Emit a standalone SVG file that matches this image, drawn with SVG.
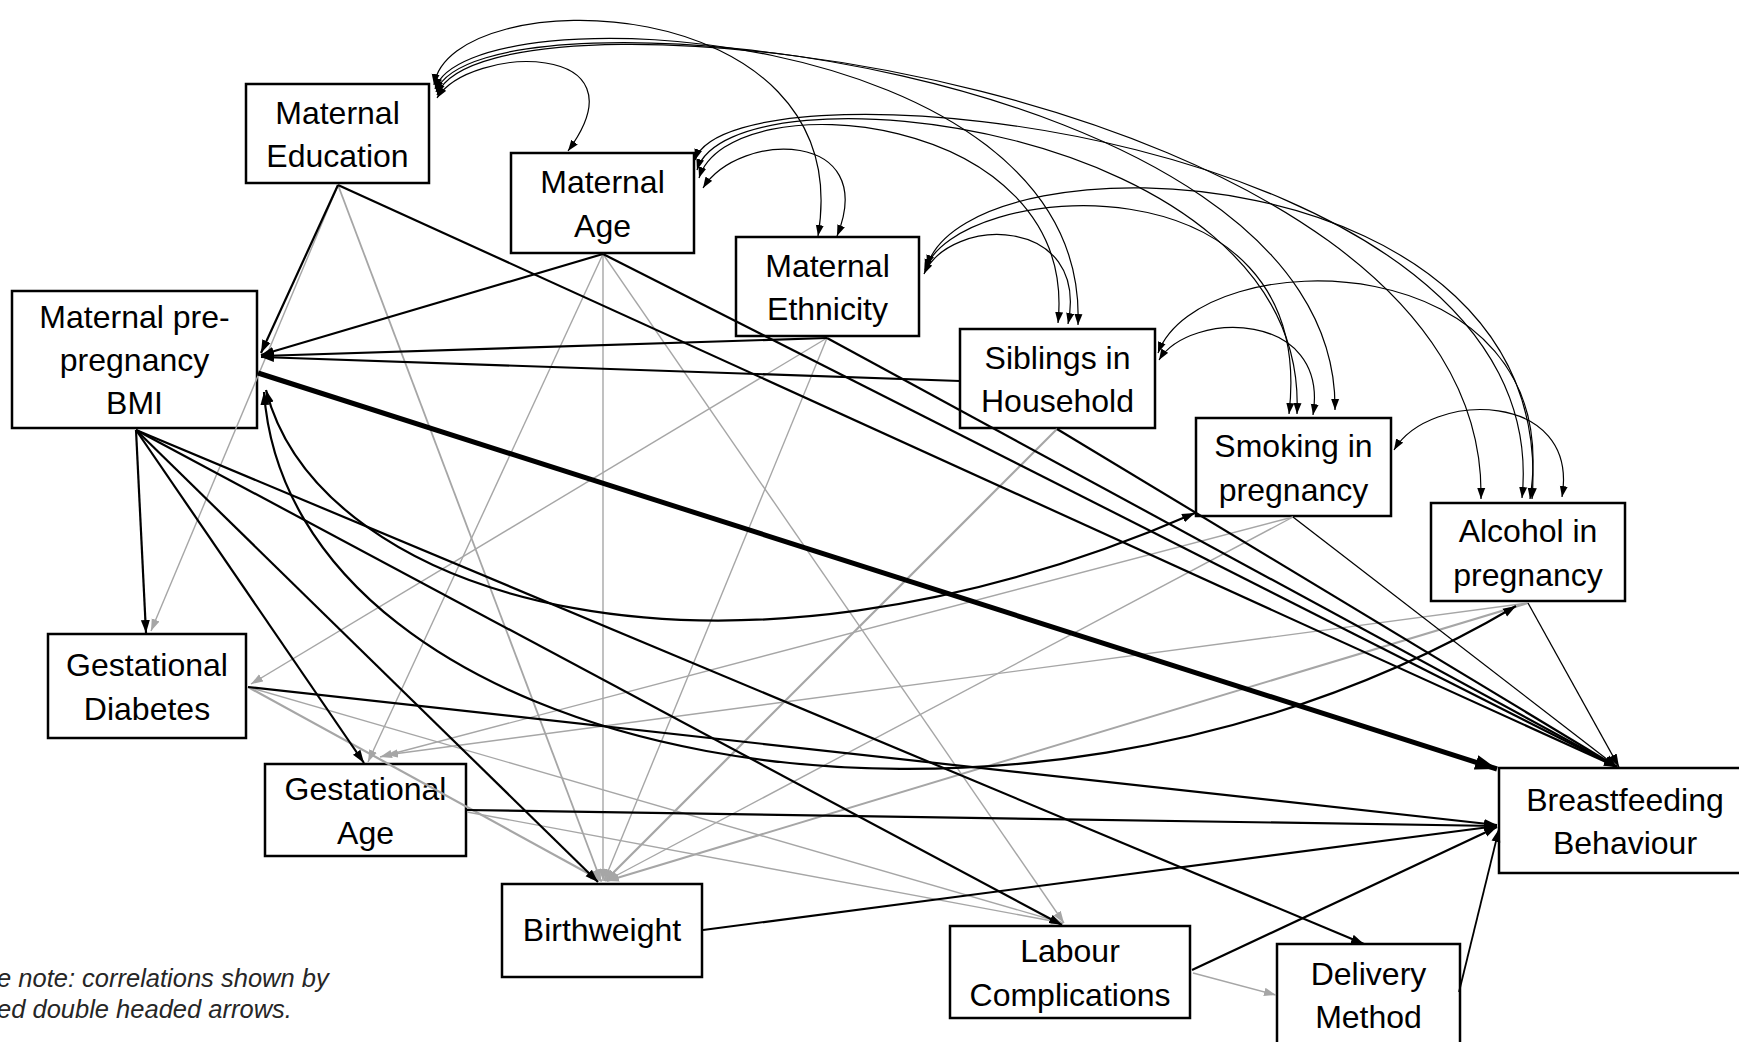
<svg xmlns="http://www.w3.org/2000/svg" width="1739" height="1042" viewBox="0 0 1739 1042">
<style>
.box{fill:#fff;stroke:#000;stroke-width:2.5}
.lbl{font-family:"Liberation Sans",Arial,sans-serif;font-size:32px;fill:#000;text-anchor:middle}
.note{font-family:"Liberation Sans",Arial,sans-serif;font-size:25.5px;font-style:italic;fill:#262626}
.b{stroke:#000;stroke-width:2.2;fill:none;marker-end:url(#ab)}
.bt{stroke:#000;stroke-width:1.3;fill:none;marker-end:url(#ab)}
.bk{stroke:#000;stroke-width:5;fill:none;marker-end:url(#abk)}
.bc{stroke:#000;stroke-width:2.2;fill:none;marker-start:url(#ab);marker-end:url(#ab)}
.g{stroke:#a6a6a6;stroke-width:1.4;fill:none;marker-end:url(#ag)}
.gk{stroke:#a6a6a6;stroke-width:2.2;fill:none;marker-end:url(#ag)}
.c{stroke:#000;stroke-width:1.2;fill:none;marker-start:url(#ac);marker-end:url(#ac)}
</style>
<defs>
<marker id="ab" markerUnits="userSpaceOnUse" markerWidth="14" markerHeight="10" refX="13" refY="5" orient="auto-start-reverse"><path d="M0,0.5 L13,5 L0,9.5 z" fill="#000"/></marker>
<marker id="abk" markerUnits="userSpaceOnUse" markerWidth="24" markerHeight="16" refX="22" refY="8" orient="auto"><path d="M0,0.5 L22,8 L0,15.5 z" fill="#000"/></marker>
<marker id="ag" markerUnits="userSpaceOnUse" markerWidth="13" markerHeight="10" refX="12" refY="5" orient="auto"><path d="M0,0.8 L12,5 L0,9.2 z" fill="#a6a6a6"/></marker>
<marker id="ac" markerUnits="userSpaceOnUse" markerWidth="12" markerHeight="9" refX="11" refY="4.5" orient="auto-start-reverse"><path d="M0,0.5 L11,4.5 L0,8.5 z" fill="#000"/></marker>
</defs>
<rect width="1739" height="1042" fill="#fff"/>

<g id="node-education"><rect class="box" x="246" y="84" width="183" height="99"/><text class="lbl" x="337.5" y="123.5">Maternal</text><text class="lbl" x="337.5" y="167">Education</text></g>
<g id="node-age"><rect class="box" x="511" y="153" width="183" height="100"/><text class="lbl" x="602.5" y="193">Maternal</text><text class="lbl" x="602.5" y="236.5">Age</text></g>
<g id="node-ethnicity"><rect class="box" x="736" y="237" width="183" height="99"/><text class="lbl" x="827.5" y="276.5">Maternal</text><text class="lbl" x="827.5" y="320">Ethnicity</text></g>
<g id="node-siblings"><rect class="box" x="960" y="329" width="195" height="99"/><text class="lbl" x="1057.5" y="368.5">Siblings in</text><text class="lbl" x="1057.5" y="412">Household</text></g>
<g id="node-smoking"><rect class="box" x="1196" y="418" width="195" height="98"/><text class="lbl" x="1293.5" y="457">Smoking in</text><text class="lbl" x="1293.5" y="500.5">pregnancy</text></g>
<g id="node-alcohol"><rect class="box" x="1431" y="503" width="194" height="98"/><text class="lbl" x="1528" y="542">Alcohol in</text><text class="lbl" x="1528" y="585.5">pregnancy</text></g>
<g id="node-bmi"><rect class="box" x="12" y="291" width="245" height="137"/><text class="lbl" x="134.5" y="328">Maternal pre-</text><text class="lbl" x="134.5" y="371">pregnancy</text><text class="lbl" x="134.5" y="414">BMI</text></g>
<g id="node-gdiabetes"><rect class="box" x="48" y="634" width="198" height="104"/><text class="lbl" x="147" y="676">Gestational</text><text class="lbl" x="147" y="719.5">Diabetes</text></g>
<g id="node-gage"><rect class="box" x="265" y="764" width="201" height="92"/><text class="lbl" x="365.5" y="800">Gestational</text><text class="lbl" x="365.5" y="843.5">Age</text></g>
<g id="node-birthweight"><rect class="box" x="502" y="884" width="200" height="93"/><text class="lbl" x="602" y="941">Birthweight</text></g>
<g id="node-labour"><rect class="box" x="950" y="926" width="240" height="92"/><text class="lbl" x="1070" y="962">Labour</text><text class="lbl" x="1070" y="1005.5">Complications</text></g>
<g id="node-delivery"><rect class="box" x="1277" y="944" width="183" height="101"/><text class="lbl" x="1368.5" y="984.5">Delivery</text><text class="lbl" x="1368.5" y="1028">Method</text></g>
<g id="node-breastfeeding"><rect class="box" x="1499" y="768" width="252" height="105"/><text class="lbl" x="1625" y="810.5">Breastfeeding</text><text class="lbl" x="1625" y="854">Behaviour</text></g>

<g id="connectors">
<line class="g" x1="338" y1="185" x2="151" y2="631"/>
<line class="g" x1="338" y1="185" x2="601" y2="881" style="stroke-width:1.8"/>
<line class="g" x1="603" y1="254" x2="368" y2="762"/>
<line class="g" x1="603" y1="254" x2="603" y2="881"/>
<line class="g" x1="603" y1="254" x2="1064" y2="923"/>
<line class="g" x1="827" y1="338" x2="251" y2="684"/>
<line class="g" x1="827" y1="338" x2="604" y2="881"/>
<line class="gk" x1="1057" y1="429" x2="605" y2="881"/>
<line class="g" x1="1293" y1="517" x2="380" y2="757"/>
<line class="g" x1="1293" y1="517" x2="606" y2="881"/>
<line class="g" x1="1528" y1="603" x2="386" y2="755"/>
<line class="gk" x1="1528" y1="603" x2="607" y2="881" style="stroke-width:2"/>
<line class="gk" x1="248" y1="687" x2="602" y2="881"/>
<line class="g" x1="248" y1="687" x2="1063" y2="923"/>
<line class="g" x1="467" y1="812" x2="1063" y2="923"/>
<line class="g" x1="1193" y1="973" x2="1276" y2="995"/>
<line class="b" x1="338" y1="185" x2="261" y2="353"/>
<line class="b" x1="603" y1="254" x2="261" y2="355"/>
<line class="b" x1="827" y1="338" x2="261" y2="356"/>
<line class="b" x1="960" y1="381" x2="261" y2="357"/>
<line class="b" x1="338" y1="185" x2="1617" y2="767"/>
<line class="b" x1="603" y1="254" x2="1617" y2="767"/>
<line class="b" x1="827" y1="338" x2="1617" y2="767"/>
<line class="b" x1="1057" y1="429" x2="1617" y2="767"/>
<line class="bt" x1="1293" y1="517" x2="1617" y2="767"/>
<line class="bt" x1="1528" y1="603" x2="1619" y2="767"/>
<line class="bk" x1="258" y1="373" x2="1497" y2="769"/>
<line class="b" x1="136" y1="430" x2="146" y2="633"/>
<line class="b" x1="136" y1="430" x2="364" y2="763"/>
<line class="b" x1="136" y1="430" x2="598" y2="882"/>
<line class="b" x1="136" y1="430" x2="1062" y2="925"/>
<line class="b" x1="136" y1="430" x2="1364" y2="944"/>
<line class="b" x1="248" y1="687" x2="1497" y2="825"/>
<line class="b" x1="467" y1="810" x2="1497" y2="826"/>
<line class="b" x1="703" y1="930" x2="1497" y2="826"/>
<line class="b" x1="1192" y1="970" x2="1497" y2="827"/>
<line class="b" x1="1459" y1="992" x2="1499" y2="829" style="stroke-width:1.8"/>
<path class="bc" d="M266,390 C320,600 720,720 1195,513"/>
<path class="bc" d="M264,392 C290,760 1000,910 1516,606"/>
<path class="c" d="M437,98 C470,45 650,40 568,151"/>
<path class="c" d="M434,85 C450,-20 860,-15 818,236"/>
<path class="c" d="M435,89 C465,-10 1090,20 1078,325"/>
<path class="c" d="M436,92 C475,-25 1340,60 1335,410"/>
<path class="c" d="M437,95 C485,-35 1490,80 1481,499"/>
<path class="c" d="M703,188 C740,130 880,130 837,236"/>
<path class="c" d="M699,178 C730,80 1080,110 1058,323"/>
<path class="c" d="M697,170 C730,60 1310,120 1297,414"/>
<path class="c" d="M695,160 C730,50 1560,130 1522,498"/>
<path class="c" d="M924,274 C950,215 1090,215 1068,324"/>
<path class="c" d="M925,270 C955,180 1320,150 1289,414"/>
<path class="c" d="M927,266 C970,130 1560,150 1532,499"/>
<path class="c" d="M1159,360 C1190,310 1330,310 1313,415"/>
<path class="c" d="M1158,353 C1200,240 1570,240 1530,499"/>
<path class="c" d="M1394,450 C1430,390 1580,390 1562,497"/>
</g>

<text class="note" x="-3" y="987">e note: correlations shown by</text>
<text class="note" x="-3" y="1018">ed double headed arrows.</text>
</svg>
